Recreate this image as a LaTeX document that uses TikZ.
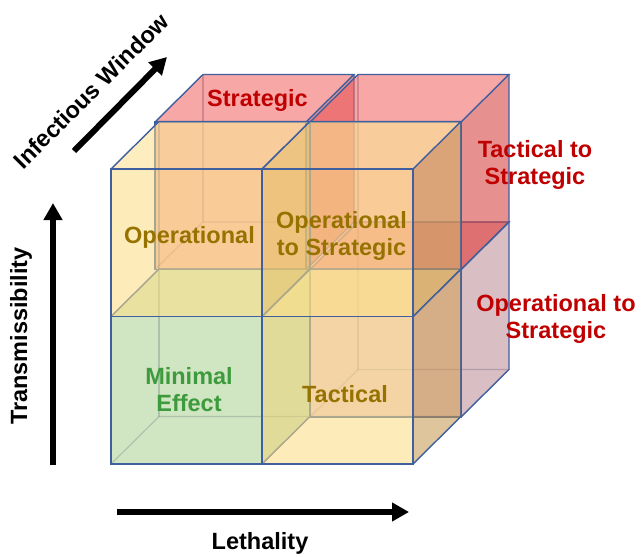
\documentclass[tikz,border=0pt]{standalone}
\usepackage{fontspec}
\setmainfont{Liberation Sans}
\usetikzlibrary{arrows.meta}
\definecolor{edgeblue}{HTML}{3F5F9F}
\definecolor{yelF}{HTML}{FDDE83}
\definecolor{yelT}{HTML}{FDE08C}
\definecolor{yelR}{HTML}{C5964B}
\definecolor{grnF}{HTML}{AAD090}
\definecolor{grnR}{HTML}{8FB877}
\definecolor{redF}{HTML}{F07A70}
\definecolor{redT}{HTML}{F45F5F}
\definecolor{redR}{HTML}{D53535}
\definecolor{pnkF}{HTML}{D9A0A8}
\definecolor{pnkT}{HTML}{E07F88}
\definecolor{pnkR}{HTML}{BA8B92}
\definecolor{olive}{HTML}{967300}
\definecolor{darkred}{HTML}{C00000}
\definecolor{dgreen}{HTML}{3D9A3D}
\tikzset{
  hid/.style={draw=edgeblue!60!gray, line width=1.2pt, draw opacity=0.5},
  edge/.style={draw=edgeblue, line width=1.4pt},
  face/.style={fill opacity=0.55},
  lbl/.style={font=\bfseries\fontsize{23.5}{27}\selectfont, align=center, inner sep=0pt},
  axlbl/.style={font=\bfseries\fontsize{23.5}{26}\selectfont, inner sep=0pt, text=black},
  axarrow/.style={line width=6pt, -{Triangle[length=17pt,width=18pt]}, black}
}
% #1,#2 front-bottom-left corner; #3 front, #4 top, #5 right colour
\newcommand\mycube[5]{%
  \begin{scope}[shift={(#1,#2)}]
    \draw[hid] (0,0) -- (48,-47.5) -- (199,-47.5);
    \draw[hid] (48,-47.5) -- (48,-195);
    \fill[#3, face] (0,0) rectangle (151,-147.5);
    \fill[#4, face] (0,-147.5) -- (151,-147.5) -- (199,-195) -- (48,-195) -- cycle;
    \fill[#5, face] (151,0) -- (199,-47.5) -- (199,-195) -- (151,-147.5) -- cycle;
    \draw[edge] (0,0) rectangle (151,-147.5);
    \draw[edge] (0,-147.5) -- (48,-195) -- (199,-195) -- (151,-147.5);
    \draw[edge] (151,0) -- (199,-47.5) -- (199,-195);
  \end{scope}}
\begin{document}
\begin{tikzpicture}[x=1pt, y=-1pt]
\useasboundingbox[fill=white] (0,0) rectangle (641,557);
% back layer
\mycube{310}{417}{pnkF}{pnkT}{pnkR}
\mycube{155}{269.5}{redF}{redT}{redR}
\mycube{310}{269.5}{redF}{redT}{redR}
% front layer
\mycube{111}{464}{grnF}{grnF}{grnR}
\mycube{262}{464}{yelF}{yelT}{yelR}
\mycube{111}{316.5}{yelF}{yelT}{yelR}
\mycube{262}{316.5}{yelF}{yelT}{yelR}
% labels
\node[lbl, text=darkred] (strat) at (257.5,100) {Strategic};
\node[lbl, text=darkred] (t2s) at (535,165) {Tactical to\\Strategic};
\node[lbl, text=darkred] (o2sb) at (556,319) {Operational to\\Strategic};
\node[lbl, text=olive] (oper) at (189.5,237) {Operational};
\node[lbl, text=olive] (o2sf) at (341.5,235.5) {Operational\\to Strategic};
\node[lbl, text=dgreen] (mini) at (189,390) {Minimal\\Effect};
\node[lbl, text=olive] (tact) at (345,394) {Tactical};
% axes
\coordinate (lA) at (117,512);
\coordinate (lB) at (409,512);
\draw[axarrow] (lA) -- (lB);
\node[axlbl] (leth) at (260,543) {Lethality};
\coordinate (tA) at (53,465);
\coordinate (tB) at (53,203);
\draw[axarrow] (tA) -- (tB);
\node[axlbl, rotate=90] (trans) at (21,336) {Transmissibility};
\coordinate (iA) at (74,151);
\coordinate (iB) at (167,57);
\draw[axarrow] (iA) -- (iB);
\node[axlbl, rotate=45] (infw) at (91,91) {Infectious Window};
\end{tikzpicture}
\end{document}
